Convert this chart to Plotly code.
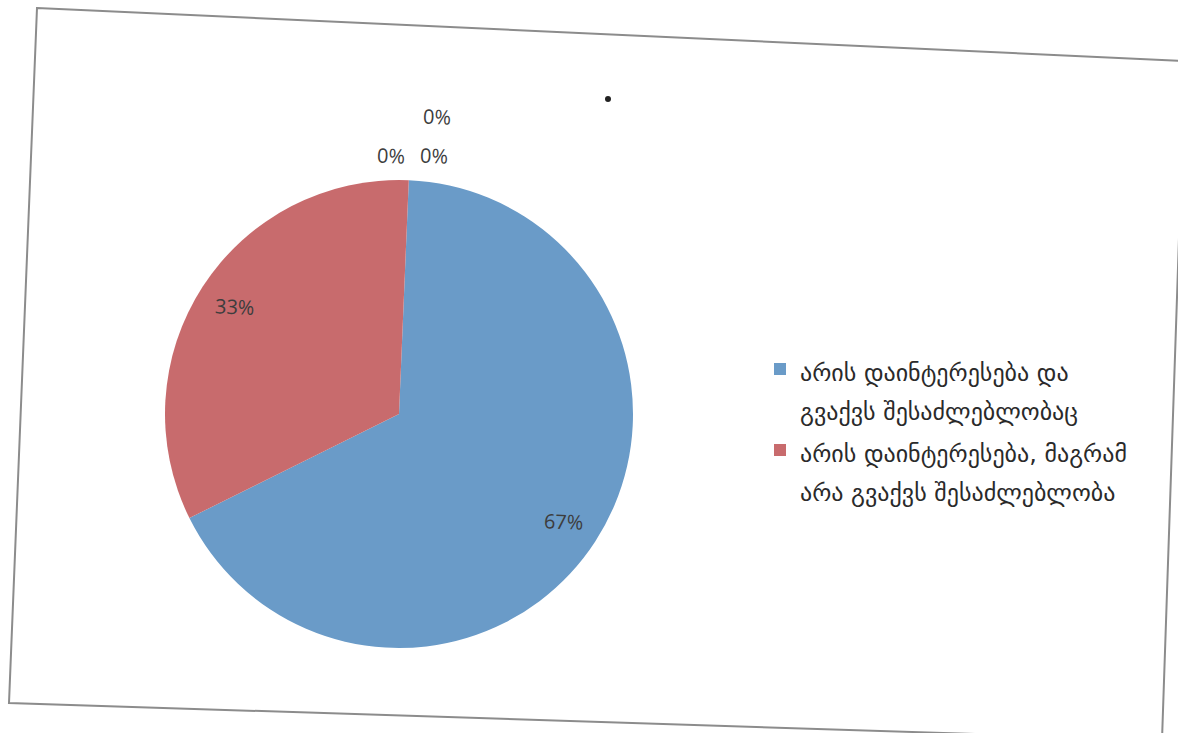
import math
import plotly.graph_objects as go

# Survey answers (two-line legend captions) and their shares in percent
answer_lines = [
    ["არის დაინტერესება და", "გვაქვს შესაძლებლობაც"],
    ["არის დაინტერესება, მაგრამ", "არა გვაქვს შესაძლებლობა"],
]
shares = [67, 33]
# unnamed categories that received no answers
zero_shares = [0, 0, 0]
colors = ["#6a9bc8", "#c86b6d"]

W, H = 1178, 733


def px(x):
    return x / W


def py(y):
    return 1 - y / H


# pie geometry in page pixels; the sheet is slightly tilted clockwise
cx, cy, r = 399, 414, 234
tilt = 2.4

legend_names = [
    "<br>".join(f"<span style='font-size:24px'>{t}</span>" for t in lines)
    for lines in answer_lines
]

fig = go.Figure(
    go.Pie(
        labels=legend_names,
        values=shares,
        sort=False,
        direction="clockwise",
        rotation=tilt,
        marker=dict(colors=colors, line=dict(width=0)),
        textinfo="none",
        hoverinfo="percent",
        domain=dict(x=[px(cx - r), px(cx + r)], y=[py(cy + r), py(cy - r)]),
    )
)

annotations = []
label_font = dict(family="Open Sans", size=20, color="#3d3d3d")

# percentage labels inside each slice, at the slice's middle angle
total = sum(shares)
start = tilt
for v in shares:
    sweep = 360 * v / total
    mid = math.radians(start + sweep / 2)
    lx = cx + 0.84 * r * math.sin(mid)
    ly = cy - 0.84 * r * math.cos(mid)
    annotations.append(dict(
        x=px(lx), y=py(ly), xref="paper", yref="paper",
        xanchor="center", yanchor="middle",
        text=f"{round(100 * v / total)}%", showarrow=False,
        font=label_font, textangle=tilt,
    ))
    start += sweep

# labels of the empty categories, stacked near the top of the pie
zero_pos = [(391, 156), (434, 156), (437, 117)]
for v, (zx, zy) in zip(zero_shares, zero_pos):
    annotations.append(dict(
        x=px(zx), y=py(zy), xref="paper", yref="paper",
        xanchor="center", yanchor="middle",
        text=f"{v}%", showarrow=False, font=label_font, textangle=tilt,
    ))

shapes = [
    # chart-area border of the tilted sheet
    dict(
        type="path", xref="paper", yref="paper",
        path=(f"M{px(37)},{py(8)} L{px(1185)},{py(61)} "
              f"L{px(1162)},{py(740)} L{px(9)},{py(703)} Z"),
        line=dict(color="#8c8c8c", width=2), fillcolor="rgba(0,0,0,0)",
    ),
    # small ink dot on the sheet
    dict(
        type="circle", xref="paper", yref="paper",
        x0=px(605), x1=px(611), y0=py(96), y1=py(102),
        fillcolor="#222222", line=dict(width=0),
    ),
]

fig.update_layout(
    width=W, height=H,
    margin=dict(l=0, r=0, t=0, b=0),
    paper_bgcolor="white",
    plot_bgcolor="white",
    showlegend=True,
    legend=dict(
        x=px(760), y=py(343), xanchor="left", yanchor="top",
        font=dict(family="DejaVu Sans", size=30, color="#2a2a2a"),
        valign="top", tracegroupgap=0, itemwidth=30,
        bgcolor="rgba(0,0,0,0)",
    ),
    annotations=annotations,
    shapes=shapes,
)

fig.write_html("out.html")
